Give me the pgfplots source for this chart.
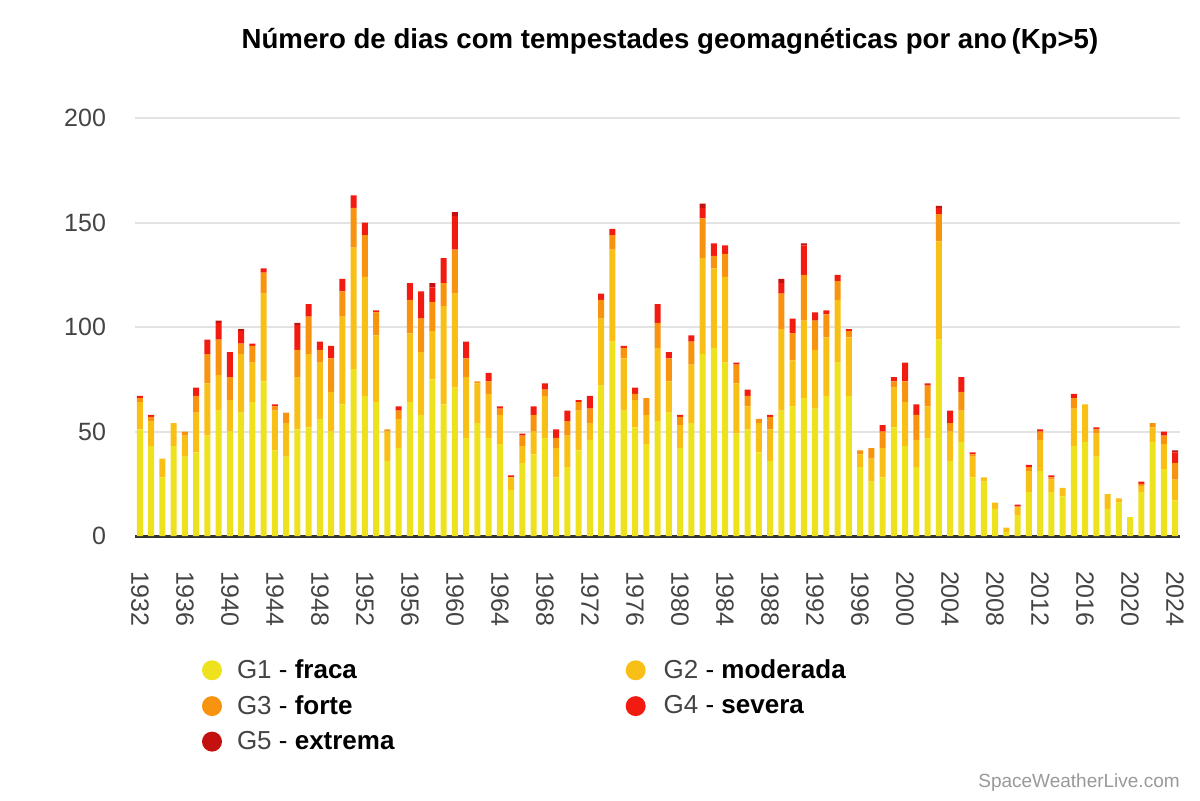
\documentclass[border=0pt]{standalone}
\usepackage{fontspec}
\setmainfont{Liberation Sans}
\usepackage{pgfplots}
\pgfplotsset{compat=1.18}
\usepackage{pgfplotstable}
\definecolor{gA}{HTML}{EEE21E}
\definecolor{gB}{HTML}{F8BF16}
\definecolor{gC}{HTML}{F7930E}
\definecolor{gD}{HTML}{F21B11}
\definecolor{gE}{HTML}{C2110F}
\definecolor{gridc}{HTML}{E3E3E3}
\definecolor{txt}{HTML}{444444}
\definecolor{axc}{HTML}{333333}
\definecolor{wm}{HTML}{999999}

\pgfplotstableread{
year g1 g2 g3 g4 g5
1932 51 13 2 1 0
1933 43 12 2 1 0
1934 28 9 0 0 0
1935 43 11 0 0 0
1936 38 10 2 0 0
1937 40 19 8 4 0
1938 48 25 14 7 0
1939 60 17 17 8 1
1940 50 15 11 12 0
1941 59 28 5 6 1
1942 64 19 8 1 0
1943 74 42 10 2 0
1944 41 19 2 1 0
1945 38 16 5 0 0
1946 51 25 13 12 1
1947 52 35 18 6 0
1948 56 27 6 4 0
1949 50 19 16 6 0
1950 63 42 12 6 0
1951 80 58 19 6 0
1952 67 57 20 6 0
1953 64 32 11 1 0
1954 36 14 1 0 0
1955 42 14 4 2 0
1956 64 33 16 8 0
1957 58 30 16 13 0
1958 75 23 14 7 2
1959 63 47 11 12 0
1960 71 45 21 16 2
1961 47 29 9 8 0
1962 54 19 1 0 0
1963 47 21 6 4 0
1964 44 14 3 1 0
1965 22 6 0 1 0
1966 35 8 5 1 0
1967 39 11 8 4 0
1968 47 20 3 3 0
1969 28 14 5 4 0
1970 33 15 7 5 0
1971 41 19 4 1 0
1972 46 8 7 6 0
1973 72 32 9 3 0
1974 93 44 7 3 0
1975 60 25 5 1 0
1976 52 13 3 3 0
1977 44 14 8 0 0
1978 55 35 12 9 0
1979 59 15 11 3 0
1980 42 11 4 1 0
1981 54 28 11 3 0
1982 87 46 19 5 2
1983 90 38 6 6 0
1984 83 41 11 4 0
1985 49 24 9 1 0
1986 51 11 5 3 0
1987 40 14 2 0 0
1988 36 15 6 1 0
1989 60 39 17 5 2
1990 62 22 13 7 0
1991 66 37 22 14 1
1992 61 28 14 4 0
1993 67 28 11 2 0
1994 83 30 9 3 0
1995 67 28 3 1 0
1996 33 6 2 0 0
1997 26 11 5 0 0
1998 28 14 8 3 0
1999 52 19 3 2 0
2000 43 21 10 9 0
2001 33 13 12 5 0
2002 47 15 10 1 0
2003 94 47 13 3 1
2004 36 14 4 6 0
2005 45 15 9 7 0
2006 28 10 1 1 0
2007 26 2 0 0 0
2008 13 3 0 0 0
2009 2 2 0 0 0
2010 10 4 0 1 0
2011 21 10 2 1 0
2012 31 15 4 1 0
2013 21 6 1 1 0
2014 19 4 0 0 0
2015 43 18 5 2 0
2016 45 18 0 0 0
2017 38 11 2 1 0
2018 13 7 0 0 0
2019 16 2 0 0 0
2020 9 0 0 0 0
2021 21 3 1 1 0
2022 45 7 2 0 0
2023 32 12 4 2 0
2024 17 10 8 5 1
}\data

\begin{document}
\begin{tikzpicture}[x=1pt,y=1pt]
\useasboundingbox (0,0) rectangle (600,400);
\node[font=\bfseries\fontsize{13.8}{16}\selectfont, text=black] at (335,379.5) {Número de dias com tempestades geomagnéticas por ano\,(Kp>5)};
\node[font=\fontsize{9.5}{11}\selectfont, text=wm] at (539.5,8.5) {SpaceWeatherLive.com};
\begin{axis}[
  at={(67.5pt,132pt)}, anchor=south west,
  scale only axis, width=522.5pt, height=209pt,
  xmin=1931.556, xmax=2024.444, ymin=0, ymax=200,
  ybar stacked, bar width=3pt,
  axis x line*=bottom, axis y line*=left,
  x axis line style={draw=axc, line width=1.5pt, -},
  y axis line style={draw=none},
  major tick length=0pt,
  xtick={1932,1936,...,2024}, ytick={0,50,100,150,200},
  ymajorgrids, grid style={draw=gridc, line width=1pt},
  /pgf/number format/1000 sep={},
  /pgf/number format/assume math mode=true,
  xticklabel style={rotate=-90, anchor=west, font=\fontsize{12.5}{14}\selectfont, text=txt},
  yticklabel style={font=\fontsize{12.5}{14}\selectfont, text=txt},
  xticklabel shift=14pt,
  yticklabel shift=11pt,
  legend columns=2,
  legend cell align=left,
  legend image code/.code={\fill[#1] (0pt,0pt) circle (5pt);},
  legend style={at={(0.058,-0.275)}, anchor=north west, draw=none, fill=none,
    font=\fontsize{13}{15}\selectfont, row sep=3pt,
    /tikz/column 1/.style={column sep=5.5pt},
    /tikz/column 2/.style={column sep=113.5pt},
    /tikz/column 3/.style={column sep=7pt}},
]
\addplot[fill=gA, draw=none] table[x=year, y=g1] {\data};
\addplot[fill=gB, draw=none] table[x=year, y=g2] {\data};
\addplot[fill=gC, draw=none] table[x=year, y=g3] {\data};
\addplot[fill=gD, draw=none] table[x=year, y=g4] {\data};
\addplot[fill=gE, draw=none] table[x=year, y=g5] {\data};
\legend{{\color{txt}G1} - \textbf{fraca}, {\color{txt}G2} - \textbf{moderada}, {\color{txt}G3} - \textbf{forte}, {\color{txt}G4} - \textbf{severa}, {\color{txt}G5} - \textbf{extrema}}
\end{axis}
\end{tikzpicture}
\end{document}
